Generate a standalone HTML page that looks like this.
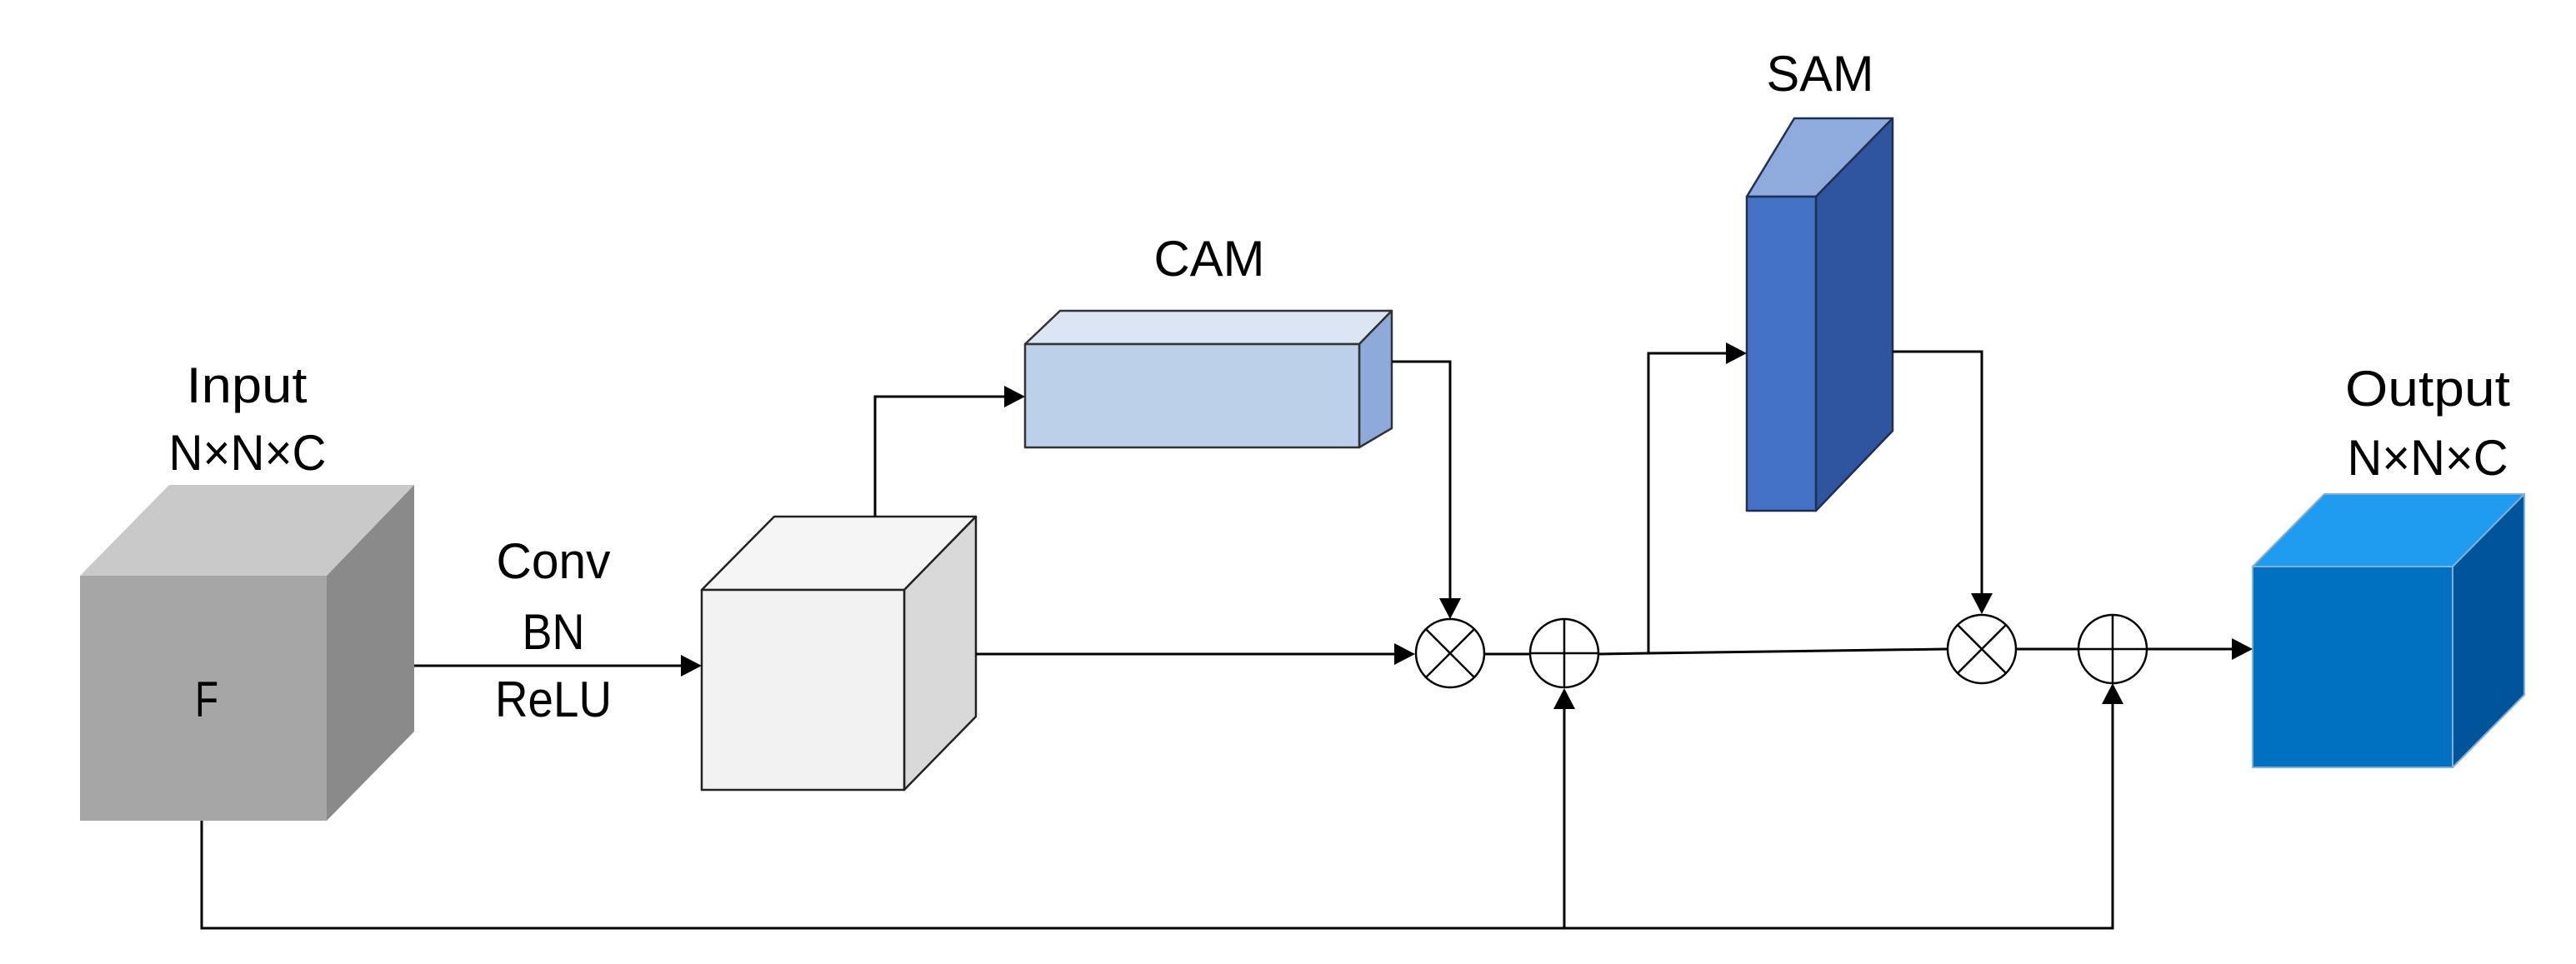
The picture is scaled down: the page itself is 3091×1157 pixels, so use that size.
<!DOCTYPE html>
<html><head><meta charset="utf-8"><style>
html,body{margin:0;padding:0;background:#fff;}
svg{display:block;}
text{font-family:"Liberation Sans",sans-serif;font-size:60px;fill:#000;}
</style></head><body>
<svg width="3091" height="1157" viewBox="0 0 3091 1157" xmlns="http://www.w3.org/2000/svg">
<defs>
<marker id="ah" markerWidth="10" markerHeight="10" refX="9" refY="5" orient="auto" markerUnits="userSpaceOnUse" viewBox="0 0 10 10">
</marker>
</defs>
<!-- Input cube -->
<polygon points="96,691 203,582 497,582 392,691" fill="#c9c9c9"/>
<polygon points="392,691 497,582 497,878 392,985" fill="#8a8a8a"/>
<rect x="96" y="691" width="296" height="294" fill="#a6a6a6"/>
<text x="248" y="860" text-anchor="middle" textLength="28" lengthAdjust="spacingAndGlyphs">F</text>
<text x="296" y="483" text-anchor="middle" textLength="145" lengthAdjust="spacingAndGlyphs">Input</text>
<text x="297" y="564" text-anchor="middle" textLength="189" lengthAdjust="spacingAndGlyphs">N×N×C</text>

<!-- Conv text -->
<text x="664" y="694" text-anchor="middle" textLength="137" lengthAdjust="spacingAndGlyphs">Conv</text>
<text x="664" y="779" text-anchor="middle" textLength="75" lengthAdjust="spacingAndGlyphs">BN</text>
<text x="664" y="860" text-anchor="middle" textLength="140" lengthAdjust="spacingAndGlyphs">ReLU</text>

<!-- Box2 -->
<g stroke="#222" stroke-width="2.5" stroke-linejoin="round">
<polygon points="842,708 929,620 1171,620 1085,708" fill="#f5f5f5"/>
<polygon points="1085,708 1171,620 1171,860 1085,948" fill="#d9d9d9"/>
<rect x="842" y="708" width="243" height="240" fill="#f2f2f2"/>
</g>

<!-- CAM -->
<g stroke="#333" stroke-width="2.5" stroke-linejoin="round">
<polygon points="1230,413 1272,373 1670,373 1631,413" fill="#dce5f4"/>
<polygon points="1631,413 1670,373 1670,514 1631,537" fill="#8eaadb"/>
<rect x="1230" y="413" width="401" height="124" fill="#bdd0ea"/>
</g>
<text x="1451" y="331" text-anchor="middle" textLength="133" lengthAdjust="spacingAndGlyphs">CAM</text>

<!-- SAM -->
<g stroke="#1f2f55" stroke-width="2.5" stroke-linejoin="round">
<polygon points="2096,236 2153,142 2271,142 2179,236" fill="#8faadc"/>
<polygon points="2179,236 2271,142 2271,517 2179,613" fill="#2f55a0"/>
<rect x="2096" y="236" width="83" height="377" fill="#4472c4"/>
</g>
<text x="2184" y="109" text-anchor="middle" textLength="129" lengthAdjust="spacingAndGlyphs">SAM</text>

<!-- Output -->
<g stroke="#7fb0d8" stroke-width="2" stroke-linejoin="round">
<polygon points="2703,680 2789,593 3029,593 2943,680" fill="#1f9bf0"/>
<polygon points="2943,680 3029,593 3029,834 2943,921" fill="#005499"/>
<rect x="2703" y="680" width="240" height="241" fill="#0070c0"/>
</g>
<text x="2913" y="487" text-anchor="middle" textLength="198" lengthAdjust="spacingAndGlyphs">Output</text>
<text x="2913" y="570" text-anchor="middle" textLength="193" lengthAdjust="spacingAndGlyphs">N×N×C</text>

<!-- connectors -->
<g stroke="#000" stroke-width="3" fill="none">
<line x1="497" y1="799" x2="818" y2="799"/>
<polyline points="1050,620 1050,476 1206,476"/>
<line x1="1171" y1="785" x2="1674" y2="785"/>
<polyline points="1670,434 1740,434 1740,718"/>
<line x1="1782" y1="785" x2="1835" y2="785"/>
<polyline points="1918,785 1978,784 2336,779"/>
<polyline points="1978,784 1978,424 2072,424"/>
<polyline points="2271,422 2378,422 2378,713"/>
<line x1="2419" y1="779" x2="2493" y2="779"/>
<line x1="2577" y1="779" x2="2679" y2="779"/>
<polyline points="242,985 242,1114 2535,1114 2535,845"/>
<line x1="1877" y1="1114" x2="1877" y2="850"/>
</g>
<!-- arrowheads -->
<g fill="#000">
<polygon points="842,799 817,786 817,812"/>
<polygon points="1230,476 1205,463 1205,489"/>
<polygon points="1698,785 1673,772 1673,798"/>
<polygon points="1740,743 1727,718 1753,718"/>
<polygon points="2096,424 2071,411 2071,437"/>
<polygon points="2378,737 2365,712 2391,712"/>
<polygon points="2703,779 2678,766 2678,792"/>
<polygon points="1877,826 1864,851 1890,851"/>
<polygon points="2535,820 2522,845 2548,845"/>
</g>
<!-- operators -->
<g stroke="#000" stroke-width="2.5" fill="#fff">
<circle cx="1740" cy="784" r="41"/>
<circle cx="1877" cy="784" r="41"/>
<circle cx="2378" cy="779" r="41"/>
<circle cx="2535" cy="779" r="41"/>
</g>
<g stroke="#000" stroke-width="2.5">
<line x1="1711" y1="755" x2="1769" y2="813"/><line x1="1769" y1="755" x2="1711" y2="813"/>
<line x1="1836" y1="784" x2="1918" y2="784"/><line x1="1877" y1="743" x2="1877" y2="825"/>
<line x1="2349" y1="750" x2="2407" y2="808"/><line x1="2407" y1="750" x2="2349" y2="808"/>
<line x1="2494" y1="779" x2="2576" y2="779"/><line x1="2535" y1="738" x2="2535" y2="820"/>
</g>
</svg>
</body></html>
